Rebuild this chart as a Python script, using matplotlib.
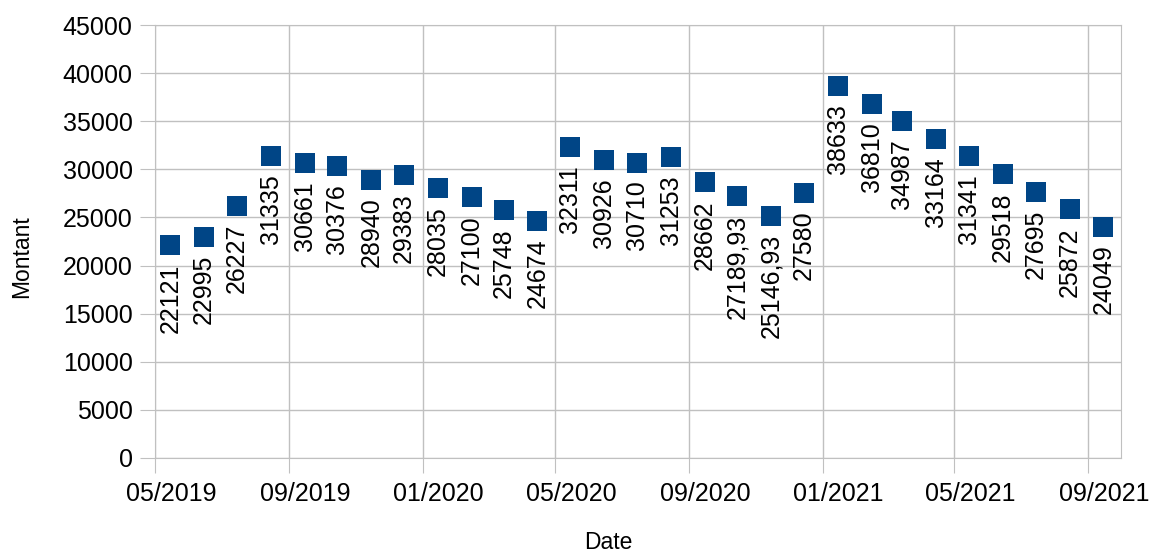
import matplotlib.pyplot as plt
import matplotlib.dates as mdates
import matplotlib.transforms as mtransforms
import numpy as np
import datetime as dt

plt.rcParams['font.family'] = ['Liberation Sans', 'DejaVu Sans']

# monthly amounts, mid-month, 05/2019 .. 09/2021
months = [(2019, m) for m in range(5, 13)] + [(2020, m) for m in range(1, 13)] + [(2021, m) for m in range(1, 10)]
dates = [dt.date(y, m, 15) for y, m in months]
montant = [22121, 22995, 26227, 31335, 30661, 30376, 28940, 29383,
           28035, 27100, 25748, 24674, 32311, 30926, 30710, 31253,
           28662, 27189.93, 25146.93, 27580,
           38633, 36810, 34987, 33164, 31341, 29518, 27695, 25872, 24049]
labels = ['22121', '22995', '26227', '31335', '30661', '30376', '28940', '29383',
          '28035', '27100', '25748', '24674', '32311', '30926', '30710', '31253',
          '28662', '27189,93', '25146,93', '27580',
          '38633', '36810', '34987', '33164', '31341', '29518', '27695', '25872', '24049']
xticks = [dt.date(2019, 5, 1), dt.date(2019, 9, 1), dt.date(2020, 1, 1), dt.date(2020, 5, 1),
          dt.date(2020, 9, 1), dt.date(2021, 1, 1), dt.date(2021, 5, 1), dt.date(2021, 9, 1)]

fig = plt.figure(figsize=(11.53, 5.52), dpi=100)
ax = fig.add_axes([0.1344, 0.1703, 0.8378, 0.7844])

ax.scatter(dates, montant, marker='s', s=205, color='#004586', zorder=3, linewidths=0)

for d, v, t in zip(dates, montant, labels):
    ax.annotate(t, (d, v), xytext=(0, -13), textcoords='offset points',
                rotation=90, ha='center', va='top', fontsize=18, color='black')

ax.set_xlim(dt.date(2019, 5, 1), dt.date(2021, 10, 1))
ax.set_ylim(0, 45000)
ax.set_yticks(np.arange(0, 45001, 5000))
ax.set_xticks(xticks)
ax.xaxis.set_major_formatter(mdates.DateFormatter('%m/%Y'))

ax.grid(True, color='#c0c0c0', linewidth=1)
ax.set_axisbelow(True)
for s in ax.spines.values():
    s.set_color('#c0c0c0')
ax.tick_params(axis='both', length=11, color='#c0c0c0', labelsize=18)
ax.tick_params(axis='x', pad=6)
ax.tick_params(axis='y', pad=5)

# x tick labels sit a bit right of their ticks in the original
shift = mtransforms.ScaledTranslation(0.16, 0, fig.dpi_scale_trans)
for lab in ax.get_xticklabels():
    lab.set_transform(lab.get_transform() + shift)

fig.text(0.5273, 0.018, 'Date', fontsize=16.5, ha='center', va='center')
fig.text(0.019, 0.536, 'Montant', fontsize=16.5, ha='center', va='center', rotation=90)

fig.savefig('out.png', dpi=100)
